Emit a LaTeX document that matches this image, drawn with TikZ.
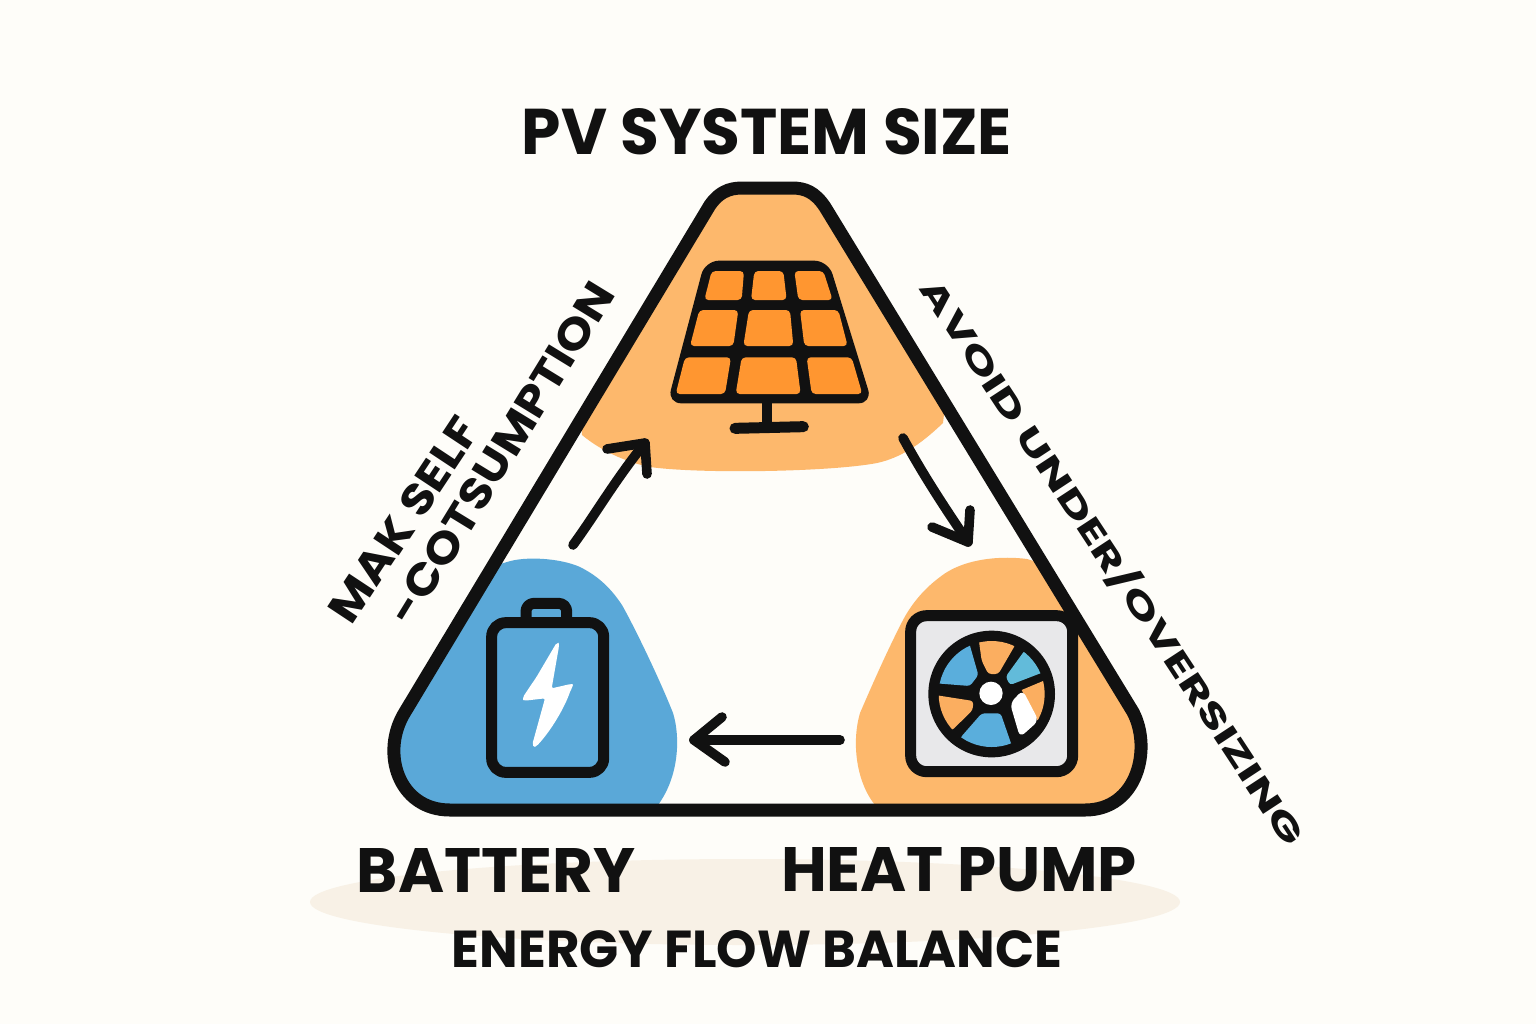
\documentclass[tikz,border=0pt]{standalone}
\usepackage{fontspec}
\usepackage{graphicx}
\setmainfont{Poppins}
\definecolor{bgc}{HTML}{FEFDF9}
\definecolor{ink}{HTML}{111111}
\definecolor{softorange}{HTML}{FDB86C}
\definecolor{cellorange}{HTML}{FF9630}
\definecolor{softblue}{HTML}{5AA8D8}
\definecolor{fanblue}{HTML}{5AAEDC}
\definecolor{fancyan}{HTML}{62BBDA}
\definecolor{fanorange}{HTML}{FBAE60}
\definecolor{shadowc}{HTML}{F8F1E6}
\definecolor{greyc}{HTML}{E8E8EA}
\newcommand{\fitlabel}[3]{\resizebox{#1}{#2}{\bfseries #3}}
\tikzset{
  x=0.5pt,y=-0.5pt,
  outline/.style={draw=ink,line width=6.5pt,line join=round},
  iconline/.style={draw=ink,line width=5.5pt,line join=round},
  flow/.style={draw=ink,line width=4.8pt,line cap=round,line join=round},
  cell/.style={fill=cellorange,rounded corners=2pt},
  fanpart/.style={rounded corners=1.5pt},
  label/.style={inner sep=0pt,text=ink}
}
\def\tripath{(710,205) .. controls (722,188) and (735,188) .. (745,188) -- (792,188) .. controls (805,188) and (815,192) .. (825,207) -- (1133,712) .. controls (1152,748) and (1138,810) .. (1085,810) -- (450,810) .. controls (398,810) and (380,752) .. (405,712) -- cycle}
\begin{document}
\begin{tikzpicture}
\useasboundingbox (0,0) rectangle (1536,1024);
\fill[bgc] (0,0) rectangle (1536,1024);
\fill[shadowc] (745,902) ellipse [x radius=435,y radius=43];
% region fills
\begin{scope}
\clip \tripath;
\fill[softorange] (560,150) -- (975,150) -- (943,423) .. controls (920,445) and (900,458) .. (877,463) .. controls (830,472) and (700,474) .. (650,467) .. controls (625,462) and (600,450) .. (582,435) -- cycle;
\fill[softblue] (360,820) -- (380,600) -- (507,562) .. controls (525,556) and (560,558) .. (580,567) .. controls (600,577) and (612,590) .. (622,605) .. controls (635,628) and (660,680) .. (673,713) .. controls (680,735) and (680,775) .. (658,805) -- (650,820) -- cycle;
\fill[softorange] (1160,820) -- (1160,600) -- (1027,559) .. controls (1005,556) and (965,557) .. (940,577) .. controls (925,588) and (912,603) .. (903,620) .. controls (885,655) and (870,690) .. (860,713) .. controls (852,740) and (855,780) .. (875,805) -- (880,820) -- cycle;
\end{scope}
% triangle
\draw[outline] \tripath;
% solar panel
\node[inner sep=0pt,minimum size=0pt] (panel) at (770,335) {};
\begin{scope}[shift={(560,170)},xscale=1/3,yscale=1/3]
\fill[ink,rounded corners=7pt] (435,272) -- (805,272) -- (937,700) -- (322,700) -- cycle;
\fill[cell] (455,303) -- (552,303) -- (545,390) -- (433,390) -- cycle;
\fill[cell] (583,303) -- (670,303) -- (680,390) -- (573,390) -- cycle;
\fill[cell] (703,303) -- (790,303) -- (818,390) -- (715,390) -- cycle;
\fill[cell] (418,420) -- (535,420) -- (520,528) -- (390,528) -- cycle;
\fill[cell] (567,420) -- (690,420) -- (700,528) -- (550,528) -- cycle;
\fill[cell] (720,420) -- (835,420) -- (863,528) -- (733,528) -- cycle;
\fill[cell] (375,562) -- (513,562) -- (495,672) -- (347,672) -- cycle;
\fill[cell] (545,562) -- (708,562) -- (722,672) -- (527,672) -- cycle;
\fill[cell] (740,562) -- (875,562) -- (907,672) -- (755,672) -- cycle;
\draw[ink,line width=5pt] (622,695) -- (622,770);
\draw[ink,line width=5.5pt,line cap=round] (525,775) -- (730,770);
\end{scope}
% battery
\begin{scope}[shift={(380,550)},xscale=1/3,yscale=1/3]
\node[inner sep=0pt,minimum size=0pt] (battery) at (503,440) {};
\draw[iconline,rounded corners=4pt] (438,218) -- (438,160) -- (560,160) -- (560,218);
\draw[iconline,rounded corners=7pt] (335,218) rectangle (671,667);
\fill[white,rounded corners=1pt] (530,278) .. controls (535,278) and (538,285) .. (535,300) -- (515,415) -- (572,402) .. controls (580,402) and (578,410) .. (572,420) .. controls (555,470) and (515,540) .. (470,588) .. controls (462,592) and (456,585) .. (460,572) -- (495,445) -- (435,452) .. controls (428,450) and (430,440) .. (435,432) -- (470,380) -- cycle;
\end{scope}
% heat pump
\begin{scope}[shift={(840,540)},xscale=1/3,yscale=1/3]
\draw[iconline,fill=greyc,rounded corners=8pt] (212,227) rectangle (698,695);
\node[inner sep=0pt,minimum size=0pt] (pump) at (455,462) {};
\fill[ink] (455,462) circle [radius=190];
\begin{scope}
\clip (455,462) circle [radius=159];
\fill[fanblue,fanpart] (290,430) -- (300,300) -- (385,300) -- (415,405) -- (390,438) -- cycle;
\fill[fanorange,fanpart] (415,290) -- (540,290) -- (475,402) -- (445,402) -- (425,362) -- cycle;
\fill[fancyan,fanpart] (555,330) -- (640,385) -- (510,435) -- (497,410) -- cycle;
\fill[fanorange] (545,450) -- (640,410) -- (640,540) -- (592,540) -- cycle;
\fill[white,rounded corners=3pt] (510,490) -- (548,450) -- (596,542) -- (540,592) -- cycle;
\fill[fanorange,fanpart] (285,465) -- (400,483) -- (398,510) -- (335,572) -- (280,540) -- cycle;
\fill[fanblue,fanpart] (425,520) -- (482,520) -- (520,630) -- (350,630) -- (362,592) -- cycle;
\end{scope}
\fill[white] (453,460) circle [radius=35];
\end{scope}
% connectors
\coordinate (upstart) at (573,545);
\coordinate (uptip) at (645,443);
\coordinate (upbarba) at (607,449);
\coordinate (upbarbb) at (647,474);
\draw[flow] (upstart) .. controls (595,515) and (615,480) .. (uptip);
\draw[flow] (upbarba) -- (uptip) -- (upbarbb);
\coordinate (downstart) at (903,438);
\coordinate (downtip) at (968,542);
\coordinate (downbarba) at (932,527);
\coordinate (downbarbb) at (970,510);
\draw[flow] (downstart) .. controls (925,478) and (945,508) .. (downtip);
\draw[flow] (downbarba) -- (downtip) -- (downbarbb);
\coordinate (leftstart) at (840,740);
\coordinate (lefttip) at (694,740);
\coordinate (leftbarba) at (722,717);
\coordinate (leftbarbb) at (725,762);
\draw[flow] (leftstart) -- (lefttip);
\draw[flow] (leftbarba) -- (lefttip) -- (leftbarbb);
% labels
\node[label] (title) at (767,132) {\fitlabel{245pt}{23pt}{PV SYSTEM SIZE}};
\node[label] (batterylabel) at (496,870) {\fitlabel{139pt}{22pt}{BATTERY}};
\node[label] (pumplabel) at (959,870) {\fitlabel{178pt}{22pt}{HEAT PUMP}};
\node[label] (balancelabel) at (757,949) {\fitlabel{305pt}{18.5pt}{ENERGY FLOW BALANCE}};
\node[label,rotate=56.5] (selflabel) at (404,520) {\fitlabel{118pt}{15.5pt}{MAK SELF}};
\node[label,rotate=58.5] (consumelabel) at (501,453) {\fitlabel{196pt}{15.5pt}{-COTSUMPTION}};
\node[label,rotate=-56.7] (avoidlabel) at (1113,562) {\fitlabel{335pt}{15.5pt}{AVOID UNDER/OVERSIZING}};
\end{tikzpicture}
\end{document}
